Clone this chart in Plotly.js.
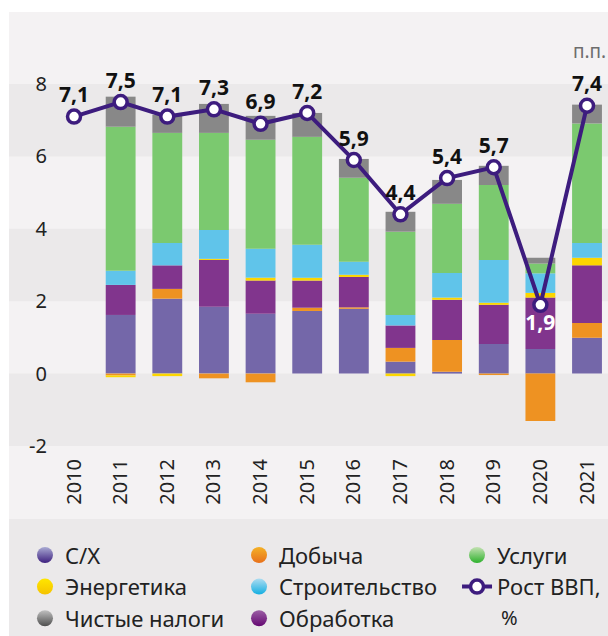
<!DOCTYPE html>
<html>
<head>
<meta charset="utf-8">
<script src="https://cdn.plot.ly/plotly-3.0.1.min.js"></script>
<style>
html,body{margin:0;padding:0;background:#ffffff;}
#chart{width:608px;height:636px;}
</style>
</head>
<body>
<div id="chart"></div>
<script>
// ---- data ----
const years    = ['2010','2011','2012','2013','2014','2015','2016','2017','2018','2019','2020','2021'];
const agri     = [null, 1.62, 2.07, 1.85, 1.65, 1.73, 1.79, 0.33, 0.05, 0.82, 0.68, 0.99];   // С/Х
const mining   = [null,-0.05, 0.27,-0.13,-0.24, 0.09, 0.04, 0.38, 0.88,-0.04,-1.31, 0.41];   // Добыча
const manuf    = [null, 0.83, 0.65, 1.29, 0.92, 0.75, 0.84, 0.62, 1.11, 1.08, 1.42, 1.59];   // Обработка
const energy   = [null,-0.05,-0.07, 0.03, 0.08, 0.08, 0.06,-0.07, 0.06, 0.06, 0.13, 0.21];   // Энергетика
const constr   = [null, 0.39, 0.62, 0.80, 0.80, 0.91, 0.36, 0.29, 0.68, 1.18, 0.54, 0.41];   // Строительство
const services = [null, 3.98, 3.04, 2.68, 3.01, 2.98, 2.32, 2.30, 1.91, 2.07, 0.27, 3.30];   // Услуги
const taxes    = [null, 0.83, 0.50, 0.80, 0.66, 0.66, 0.52, 0.55, 0.66, 0.53, 0.16, 0.52];   // Чистые налоги
const gdp      = [7.1, 7.5, 7.1, 7.3, 6.9, 7.2, 5.9, 4.4, 5.4, 5.7, 1.9, 7.4];               // Рост ВВП, %
const yTicks   = [-2, 0, 2, 4, 6, 8];
const yTickText= ['-2', '0', '2', '4', '6', '8'];

// ---- styling ----
const FONT = 'Noto Sans';
const LINE = '#3d1c7e';
const LIGHT_BAND = '#f4f2f3';
const DARK_BAND = '#ebe9ea';

const series = [
  {name:'С/Х',            y:agri,     color:'#7467a9', light:'#a9aad3', dark:'#3d1f7e', legend:'legend'},
  {name:'Добыча',         y:mining,   color:'#ee9222', light:'#f4b126', dark:'#e8701b', legend:'legend2'},
  {name:'Обработка',      y:manuf,    color:'#81358d', light:'#9b5fa5', dark:'#650872', legend:'legend2'},
  {name:'Энергетика',     y:energy,   color:'#fcd600', light:'#ffe600', dark:'#f5c200', legend:'legend'},
  {name:'Строительство',  y:constr,   color:'#60c4ea', light:'#acdcf1', dark:'#12aee1', legend:'legend2'},
  {name:'Услуги',         y:services, color:'#7bc96f', light:'#c3e1b2', dark:'#2db12c', legend:'legend3'},
  {name:'Чистые налоги',  y:taxes,    color:'#888888', light:'#c0c0c0', dark:'#4e4e4e', legend:'legend'}
];

const traces = [];
series.forEach(s => {
  traces.push({
    type:'bar', x:years, y:s.y, name:s.name, showlegend:false,
    marker:{color:s.color, line:{width:0}},
    hoverinfo:'skip'
  });
});

// legend-only entries (circles), in the column order of the reference
const legendOrder = ['С/Х','Энергетика','Чистые налоги','Добыча','Строительство','Обработка','Услуги'];
legendOrder.forEach((nm, i) => {
  const s = series.find(d => d.name === nm);
  traces.push({
    type:'scatter', mode:'markers', x:[null], y:[null], name:s.name,
    legend:s.legend, legendgroup:'g'+i, showlegend:true, hoverinfo:'skip',
    marker:{symbol:'circle', size:19, color:s.light, gradient:{type:'vertical', color:s.dark}, line:{width:0}}
  });
});

const labelPos = gdp.map((v, i) => years[i] === '2020' ? 'bottom center' : 'top center');
const labelCol = gdp.map((v, i) => years[i] === '2020' ? '#ffffff' : '#111111');
traces.push({
  type:'scatter', mode:'lines+markers+text', x:years, y:gdp, name:'Рост ВВП,',
  legend:'legend3', legendgroup:'g99',
  text:gdp.map(v => v.toFixed(1).replace('.', ',')),
  textposition:labelPos,
  textfont:{family:FONT, size:21, color:labelCol, weight:700},
  line:{color:LINE, width:4},
  marker:{symbol:'circle', size:13, color:'#ffffff', line:{color:LINE, width:3.5}},
  cliponaxis:false, hoverinfo:'skip'
});

// ---- background bands ----
const yMin = -2, yMax = 8;
const py = v => (v - yMin) / (yMax - yMin);
const X0 = -0.0696;
const shapes = [
  {type:'rect', xref:'paper', yref:'paper', x0:X0, x1:1, y0:-0.2017, y1:1.199, fillcolor:LIGHT_BAND, line:{width:0}, layer:'below'},
  {type:'rect', xref:'paper', yref:'paper', x0:X0, x1:1, y0:-0.53, y1:-0.2017, fillcolor:DARK_BAND, line:{width:0}, layer:'below'}
];
[[-2,0],[2,4],[6,8]].forEach(b => {
  shapes.push({type:'rect', xref:'paper', yref:'paper', x0:X0, x1:1, y0:py(b[0]), y1:py(b[1]), fillcolor:DARK_BAND, line:{width:0}, layer:'below'});
});

const legendBase = {
  orientation:'v', bgcolor:'rgba(0,0,0,0)', borderwidth:0,
  font:{family:FONT, size:22, color:'#222222'},
  xanchor:'left', yanchor:'top', traceorder:'grouped', tracegroupgap:0,
  itemclick:false, itemdoubleclick:false
};

const layout = {
  width:608, height:636,
  margin:{l:48, r:0, t:84, b:190, autoexpand:false},
  paper_bgcolor:'#ffffff', plot_bgcolor:'rgba(0,0,0,0)',
  font:{family:FONT, size:20, color:'#222222'},
  barmode:'relative', bargap:0.36,
  showlegend:true,
  legend:  Object.assign({}, legendBase, {x:-0.0411, y:-0.2437}),
  legend2: Object.assign({}, legendBase, {x:0.3411, y:-0.2437}),
  legend3: Object.assign({}, legendBase, {x:0.7304, y:-0.2437}),
  xaxis:{
    type:'category', range:[-0.558, 11.45], tickangle:-90,
    tickfont:{family:FONT, size:20, color:'#222222'},
    showgrid:false, zeroline:false, showline:false, ticks:'', ticklabelstandoff:8, fixedrange:true
  },
  yaxis:{
    range:[yMin, yMax], tickvals:yTicks, ticktext:yTickText,
    tickfont:{family:FONT, size:20, color:'#222222'},
    showgrid:false, zeroline:false, showline:false, ticks:'', fixedrange:true
  },
  shapes:shapes,
  annotations:[
    {xref:'paper', yref:'paper', x:1, y:1.091, xanchor:'right', yanchor:'middle', text:'п.п.', showarrow:false,
     font:{family:FONT, size:19, color:'#6d6d6d'}},
    {xref:'paper', yref:'paper', x:0.805, y:-0.431, xanchor:'left', yanchor:'top', text:'%', showarrow:false,
     font:{family:FONT, size:20, color:'#222222'}}
  ],
  hovermode:false
};

Plotly.newPlot('chart', traces, layout, {displayModeBar:false, staticPlot:true});
</script>
</body>
</html>
